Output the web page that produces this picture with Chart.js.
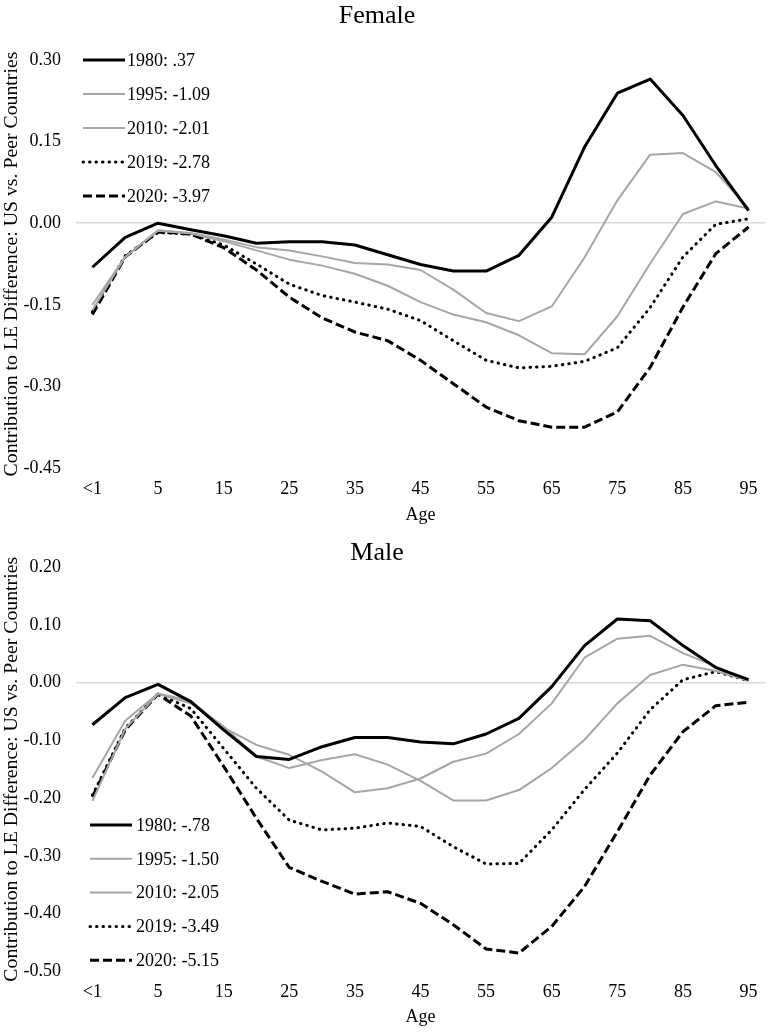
<!DOCTYPE html>
<html><head><meta charset="utf-8">
<script src="https://cdn.jsdelivr.net/npm/chart.js@4/dist/chart.umd.min.js"></script>
<style>
html,body{margin:0;padding:0;background:#fff;width:768px;height:1032px;overflow:hidden;}
canvas{position:absolute;left:0;}
#f{top:0;}
#m{top:520px;}
</style></head><body>
<canvas id="f" width="768" height="530"></canvas>
<canvas id="m" width="768" height="512"></canvas>
<script>
// ---- data ----
const ages = ['<1','1','5','10','15','20','25','30','35','40','45','50','55','60','65','70','75','80','85','90','95'];
const years = ['1980','1995','2010','2019','2020'];

const femaleLegend = ['1980: .37','1995: -1.09','2010: -2.01','2019: -2.78','2020: -3.97'];
const female1980 = [-0.081,-0.026,0.000,-0.012,-0.023,-0.037,-0.034,-0.034,-0.040,-0.058,-0.076,-0.088,-0.088,-0.059,0.011,0.140,0.239,0.265,0.198,0.106,0.023];
const female1995 = [-0.150,-0.062,-0.013,-0.018,-0.030,-0.044,-0.050,-0.061,-0.073,-0.076,-0.086,-0.122,-0.165,-0.180,-0.153,-0.063,0.042,0.126,0.129,0.094,0.027];
const female2010 = [-0.160,-0.062,-0.014,-0.019,-0.033,-0.050,-0.067,-0.078,-0.093,-0.115,-0.145,-0.168,-0.182,-0.206,-0.239,-0.241,-0.171,-0.074,0.017,0.040,0.027];
const female2019 = [-0.163,-0.060,-0.017,-0.020,-0.040,-0.075,-0.112,-0.133,-0.145,-0.158,-0.179,-0.216,-0.252,-0.266,-0.263,-0.254,-0.229,-0.155,-0.062,-0.002,0.008];
const female2020 = [-0.168,-0.062,-0.016,-0.020,-0.045,-0.086,-0.136,-0.174,-0.200,-0.216,-0.252,-0.295,-0.338,-0.363,-0.375,-0.375,-0.347,-0.265,-0.154,-0.056,-0.007];

const maleLegend = ['1980: -.78','1995: -1.50','2010: -2.05','2019: -3.49','2020: -5.15'];
const male1980 = [-0.073,-0.026,-0.003,-0.033,-0.082,-0.128,-0.133,-0.111,-0.095,-0.095,-0.103,-0.106,-0.089,-0.062,-0.007,0.064,0.110,0.107,0.064,0.026,0.005];
const male1995 = [-0.165,-0.066,-0.019,-0.032,-0.078,-0.108,-0.125,-0.154,-0.190,-0.183,-0.166,-0.137,-0.123,-0.089,-0.036,0.043,0.076,0.081,0.051,0.028,0.003];
const male2010 = [-0.205,-0.080,-0.020,-0.036,-0.076,-0.128,-0.148,-0.134,-0.124,-0.142,-0.170,-0.204,-0.204,-0.186,-0.148,-0.099,-0.036,0.013,0.031,0.020,0.003];
const male2019 = [-0.195,-0.079,-0.020,-0.045,-0.114,-0.183,-0.238,-0.255,-0.252,-0.243,-0.249,-0.284,-0.314,-0.313,-0.255,-0.185,-0.122,-0.047,0.005,0.019,0.003];
const male2020 = [-0.198,-0.082,-0.020,-0.058,-0.145,-0.235,-0.320,-0.344,-0.366,-0.362,-0.382,-0.419,-0.461,-0.468,-0.422,-0.353,-0.258,-0.160,-0.085,-0.040,-0.034];

const femaleYTicks = [-0.45,-0.30,-0.15,0.00,0.15,0.30];
const maleYTicks = [-0.50,-0.40,-0.30,-0.20,-0.10,0.00,0.10,0.20];

const yTitle = 'Contribution to LE Difference: US vs. Peer Countries';
const xTitle = 'Age';

// ---- styles ----
const FONT = "'Liberation Serif', 'Times New Roman', serif";
const GRAY = '#a6a6a6';
const styles = [
  {borderColor:'#000', borderWidth:3, borderDash:[], borderCapStyle:'butt'},
  {borderColor:GRAY, borderWidth:2, borderDash:[], borderCapStyle:'butt'},
  {borderColor:GRAY, borderWidth:2, borderDash:[], borderCapStyle:'butt'},
  {borderColor:'#000', borderWidth:3, borderDash:[0.5,6], borderCapStyle:'round'},
  {borderColor:'#000', borderWidth:3, borderDash:[9,4], borderCapStyle:'butt'}
];

function makeDatasets(labels, arrays){
  return arrays.map((d,i)=>Object.assign({
    label: labels[i], data: d, fill:false, tension:0, pointRadius:0,
    pointHoverRadius:0, borderJoinStyle:'round'
  }, styles[i]));
}

const panelPlugin = {
  id:'panel',
  afterDraw(chart, args, opts){
    const ctx = chart.ctx;
    ctx.save();
    ctx.fillStyle = '#000';
    ctx.font = "26px " + FONT;
    ctx.textAlign = 'center';
    ctx.textBaseline = 'alphabetic';
    ctx.fillText(opts.title, opts.titleX, opts.titleY);
    // legend
    ctx.font = "18px " + FONT;
    ctx.textAlign = 'left';
    ctx.textBaseline = 'middle';
    chart.data.datasets.forEach((ds,i)=>{
      const y = opts.legY + i*opts.legDy;
      ctx.beginPath();
      ctx.strokeStyle = ds.borderColor;
      ctx.lineWidth = ds.borderWidth;
      ctx.setLineDash(ds.borderDash || []);
      ctx.lineCap = ds.borderCapStyle;
      ctx.moveTo(opts.legX0, y);
      ctx.lineTo(opts.legX1, y);
      ctx.stroke();
      ctx.setLineDash([]);
      ctx.fillStyle = '#000';
      ctx.fillText(ds.label, opts.legTextX, y+1);
    });
    ctx.restore();
  }
};

function makeChart(id, labels, arrays, yTicks, pad, xHeight, panelOpts){
  return new Chart(document.getElementById(id), {
    type:'line',
    data:{ labels: ages, datasets: makeDatasets(labels, arrays) },
    plugins:[panelPlugin],
    options:{
      responsive:false, animation:false, devicePixelRatio:1,
      layout:{ padding:{ top:pad, right:3, left:0, bottom:0 } },
      plugins:{ legend:{display:false}, tooltip:{enabled:false}, title:{display:false}, panel: panelOpts },
      scales:{
        x:{
          type:'category', offset:true,
          grid:{ display:false, drawTicks:false },
          border:{ display:false },
          ticks:{ autoSkip:false, maxRotation:0, padding:10, color:'#000',
                  font:{family:FONT, size:18},
                  callback:(v,i)=> i%2===0 ? ages[i] : '' },
          title:{ display:true, text:xTitle, color:'#000', font:{family:FONT,size:18}, padding:{top:0,bottom:4} },
          afterFit:(s)=>{ s.height = xHeight; }
        },
        y:{
          min: yTicks[0], max: yTicks[yTicks.length-1],
          grid:{ drawTicks:false, lineWidth:1.5,
                 color:(c)=> Math.abs(c.tick.value) < 1e-9 ? '#d9d9d9' : 'rgba(0,0,0,0)' },
          border:{ display:false },
          afterBuildTicks:(s)=>{ s.ticks = yTicks.map(v=>({value:v})); },
          ticks:{ padding:15, color:'#000', font:{family:FONT, size:18},
                  callback:(v)=> (Math.abs(v)<1e-9 ? 0 : v).toFixed(2) },
          title:{ display:true, text:yTitle, color:'#000', font:{family:FONT,size:19.8}, padding:{top:0,bottom:0} },
          afterFit:(s)=>{ s.width = 76; }
        }
      }
    }
  });
}

makeChart('f', femaleLegend, [female1980,female1995,female2010,female2019,female2020], femaleYTicks, 60, 62,
  {title:'Female', titleX:377, titleY:23, legX0:83, legX1:125, legTextX:127, legY:60, legDy:34});
makeChart('m', maleLegend, [male1980,male1995,male2010,male2019,male2020], maleYTicks, 47, 60.5,
  {title:'Male', titleX:377, titleY:40, legX0:90, legX1:132, legTextX:136, legY:305, legDy:33.8});
</script>
</body></html>
